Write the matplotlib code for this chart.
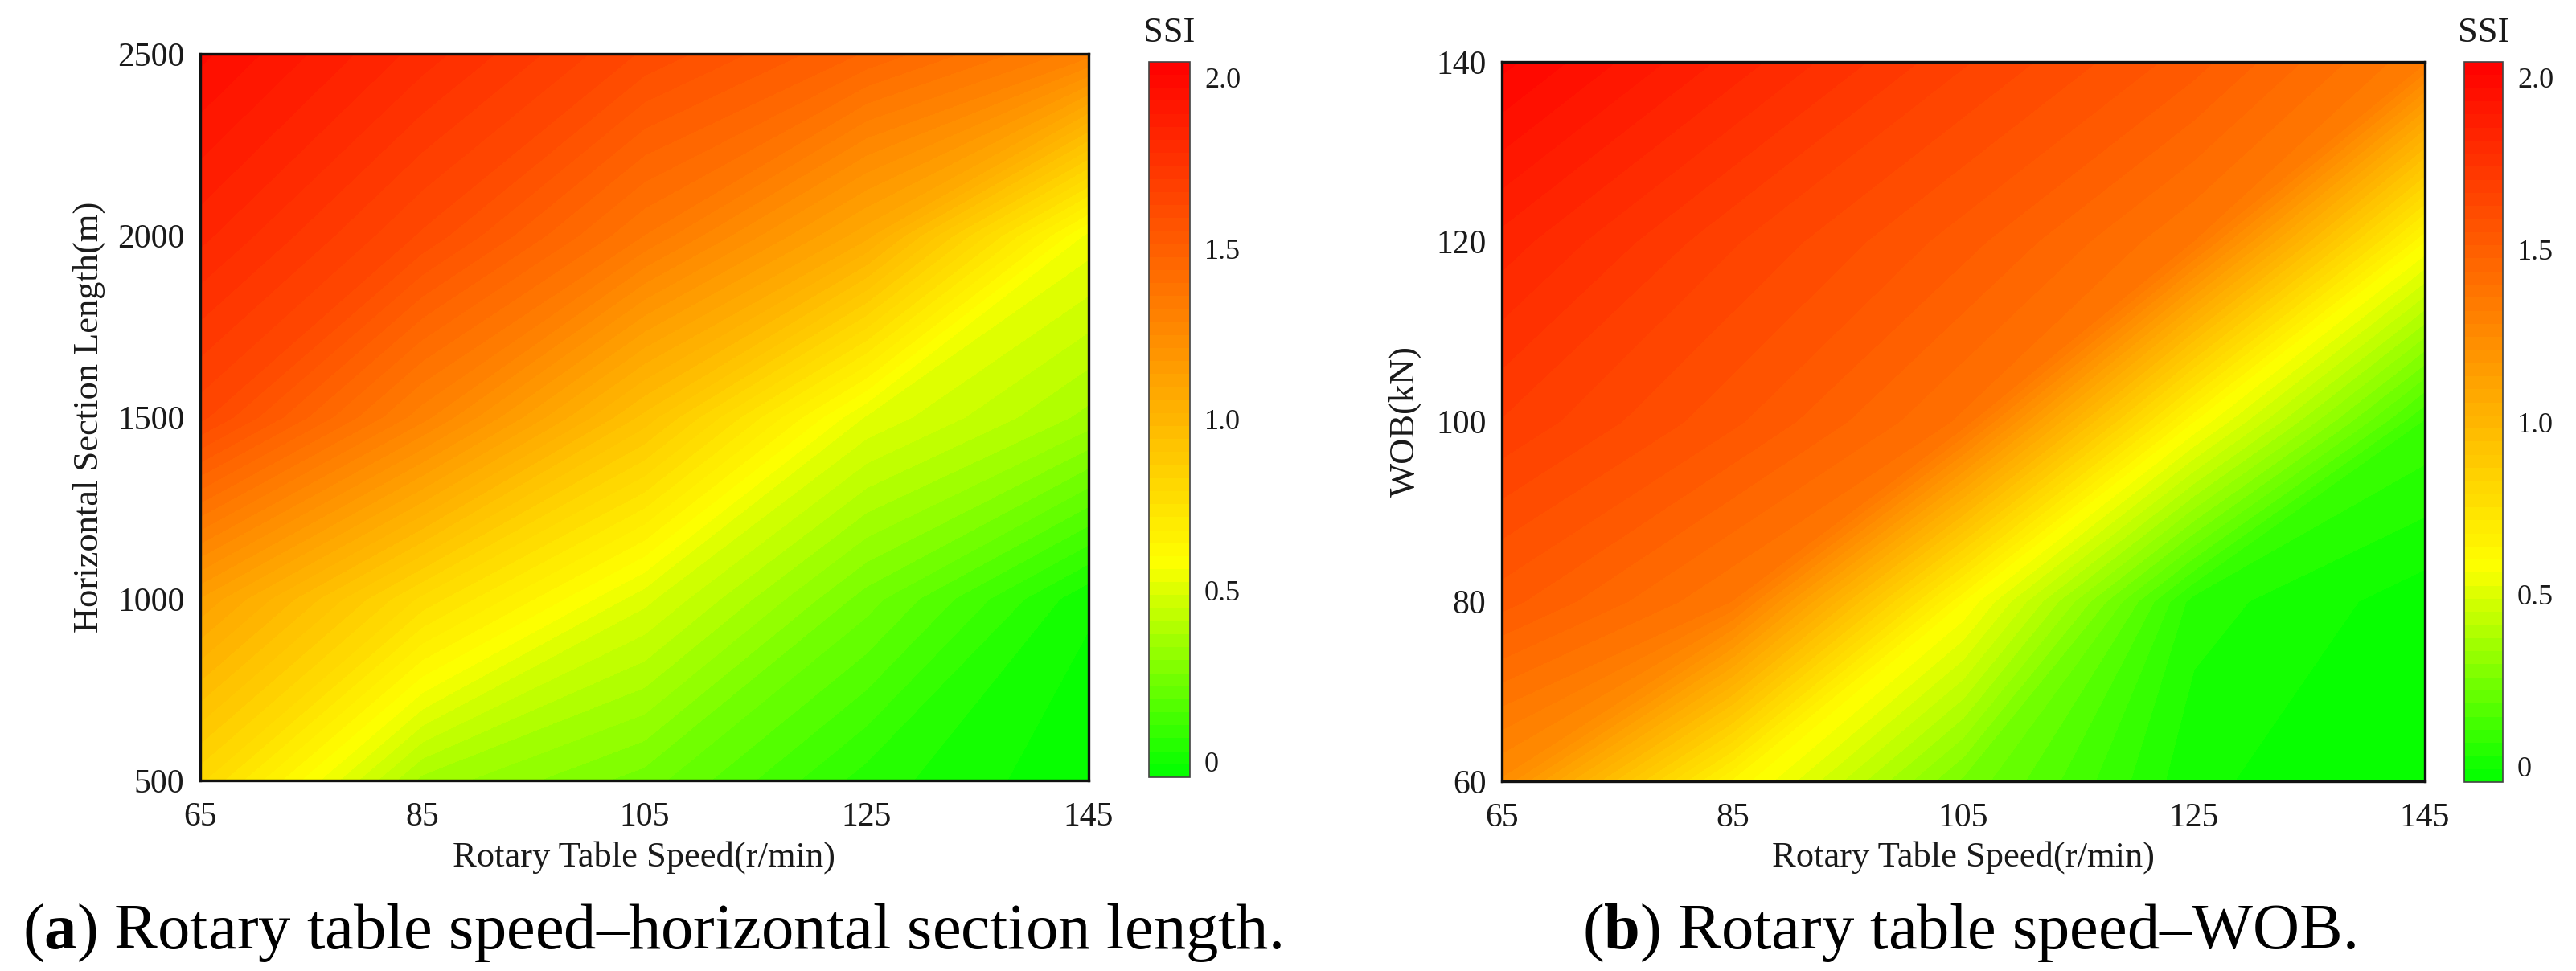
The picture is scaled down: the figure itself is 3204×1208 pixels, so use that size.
import matplotlib.pyplot as plt
import numpy as np
from matplotlib.colors import LinearSegmentedColormap

plt.rcParams['font.family'] = ['Liberation Serif', 'DejaVu Serif']
plt.rcParams['mathtext.fontset'] = 'custom'
plt.rcParams['mathtext.rm'] = 'Liberation Serif'
plt.rcParams['mathtext.bf'] = 'Liberation Serif:bold'

# grid of the two response surfaces
speed = [65, 85, 105, 125, 145]
length = [500, 1000, 1500, 2000, 2500]
wob = [60, 80, 100, 120, 140]

# SSI, rows follow length (500 -> 2500), columns follow speed
ssi_length = [
    [0.80, 0.36, 0.24, 0.05, -0.04],
    [1.13, 0.78, 0.50, 0.24, 0.00],
    [1.64, 1.30, 0.93, 0.52, 0.36],
    [1.83, 1.62, 1.36, 1.07, 0.55],
    [1.98, 1.80, 1.62, 1.47, 1.30],
]
# SSI, rows follow WOB (60 -> 140), columns follow speed
ssi_wob = [
    [1.24, 0.63, 0.25, 0.00, -0.04],
    [1.53, 1.36, 0.60, 0.05, -0.03],
    [1.70, 1.56, 1.39, 0.60, 0.10],
    [1.84, 1.67, 1.53, 1.36, 0.60],
    [2.02, 1.84, 1.67, 1.53, 1.33],
]

cb_ticks = [0, 0.5, 1.0, 1.5, 2.0]
cb_ticklabels = ["0", "0.5", "1.0", "1.5", "2.0"]
vmin, vmax = -0.045, 2.045

cmap = LinearSegmentedColormap.from_list(
    "ssi", [(0.0, (0, 1, 0)), (0.30, (1, 1, 0)), (1.0, (1, 0, 0))])
levels = np.linspace(vmin, vmax, 56)

tick_size = 30
label_size = 32
cb_size = 26
caption_size = 58
text_color = "#1a1a1a"

fig = plt.figure(figsize=(32.04, 12.08), dpi=100)

panels = [
    # axes rect, colorbar rect, y values, z, ylabel, yticks, label x, caption, caption x
    ([0.0777, 0.1962, 0.3449, 0.7483], [0.4460, 0.1995, 0.0159, 0.7368],
     length, ssi_length, "Horizontal Section Length(m)", length, -0.107,
     r"($\mathbf{a}$) Rotary table speed–horizontal section length.", 0.253),
    ([0.5830, 0.1954, 0.3583, 0.7409], [0.9566, 0.1945, 0.0150, 0.7417],
     wob, ssi_wob, "WOB(kN)", wob, -0.087,
     r"($\mathbf{b}$) Rotary table speed–WOB.", 0.7644),
]

for rect, cb_rect, yvals, z, ylabel, yticks, lab_x, caption, cap_x in panels:
    ax = fig.add_axes(rect)
    cs = ax.contourf(speed, yvals, np.array(z), levels=levels, cmap=cmap,
                     vmin=vmin, vmax=vmax, antialiased=False)
    ax.set_xlim(speed[0], speed[-1])
    ax.set_ylim(yvals[0], yvals[-1])
    ax.set_xticks(speed)
    ax.set_yticks(yticks)
    ax.tick_params(axis='both', length=0, labelsize=tick_size, colors=text_color)
    ax.tick_params(axis='x', pad=19)
    ax.tick_params(axis='y', pad=14)
    for sp in ax.spines.values():
        sp.set_linewidth(2.4)
        sp.set_color("#111111")
    ax.set_xlabel("Rotary Table Speed(r/min)", fontsize=label_size, color=text_color)
    ax.set_ylabel(ylabel, fontsize=label_size, color=text_color)
    ax.xaxis.set_label_coords(0.5, -0.083)
    ax.yaxis.set_label_coords(lab_x, 0.5)

    cax = fig.add_axes(cb_rect)
    cb = fig.colorbar(cs, cax=cax)
    cb.set_ticks(cb_ticks)
    cb.set_ticklabels(cb_ticklabels)
    cb.ax.tick_params(length=0, labelsize=cb_size, pad=13, colors=text_color)
    cb.outline.set_linewidth(1.2)
    cb.outline.set_edgecolor("#444444")
    cax.set_title("SSI", fontsize=label_size, pad=18, color=text_color)

    fig.text(cap_x, 0.0232, caption, fontsize=caption_size, ha='center',
             va='baseline', color='black')

plt.savefig("out.png", dpi=100)
